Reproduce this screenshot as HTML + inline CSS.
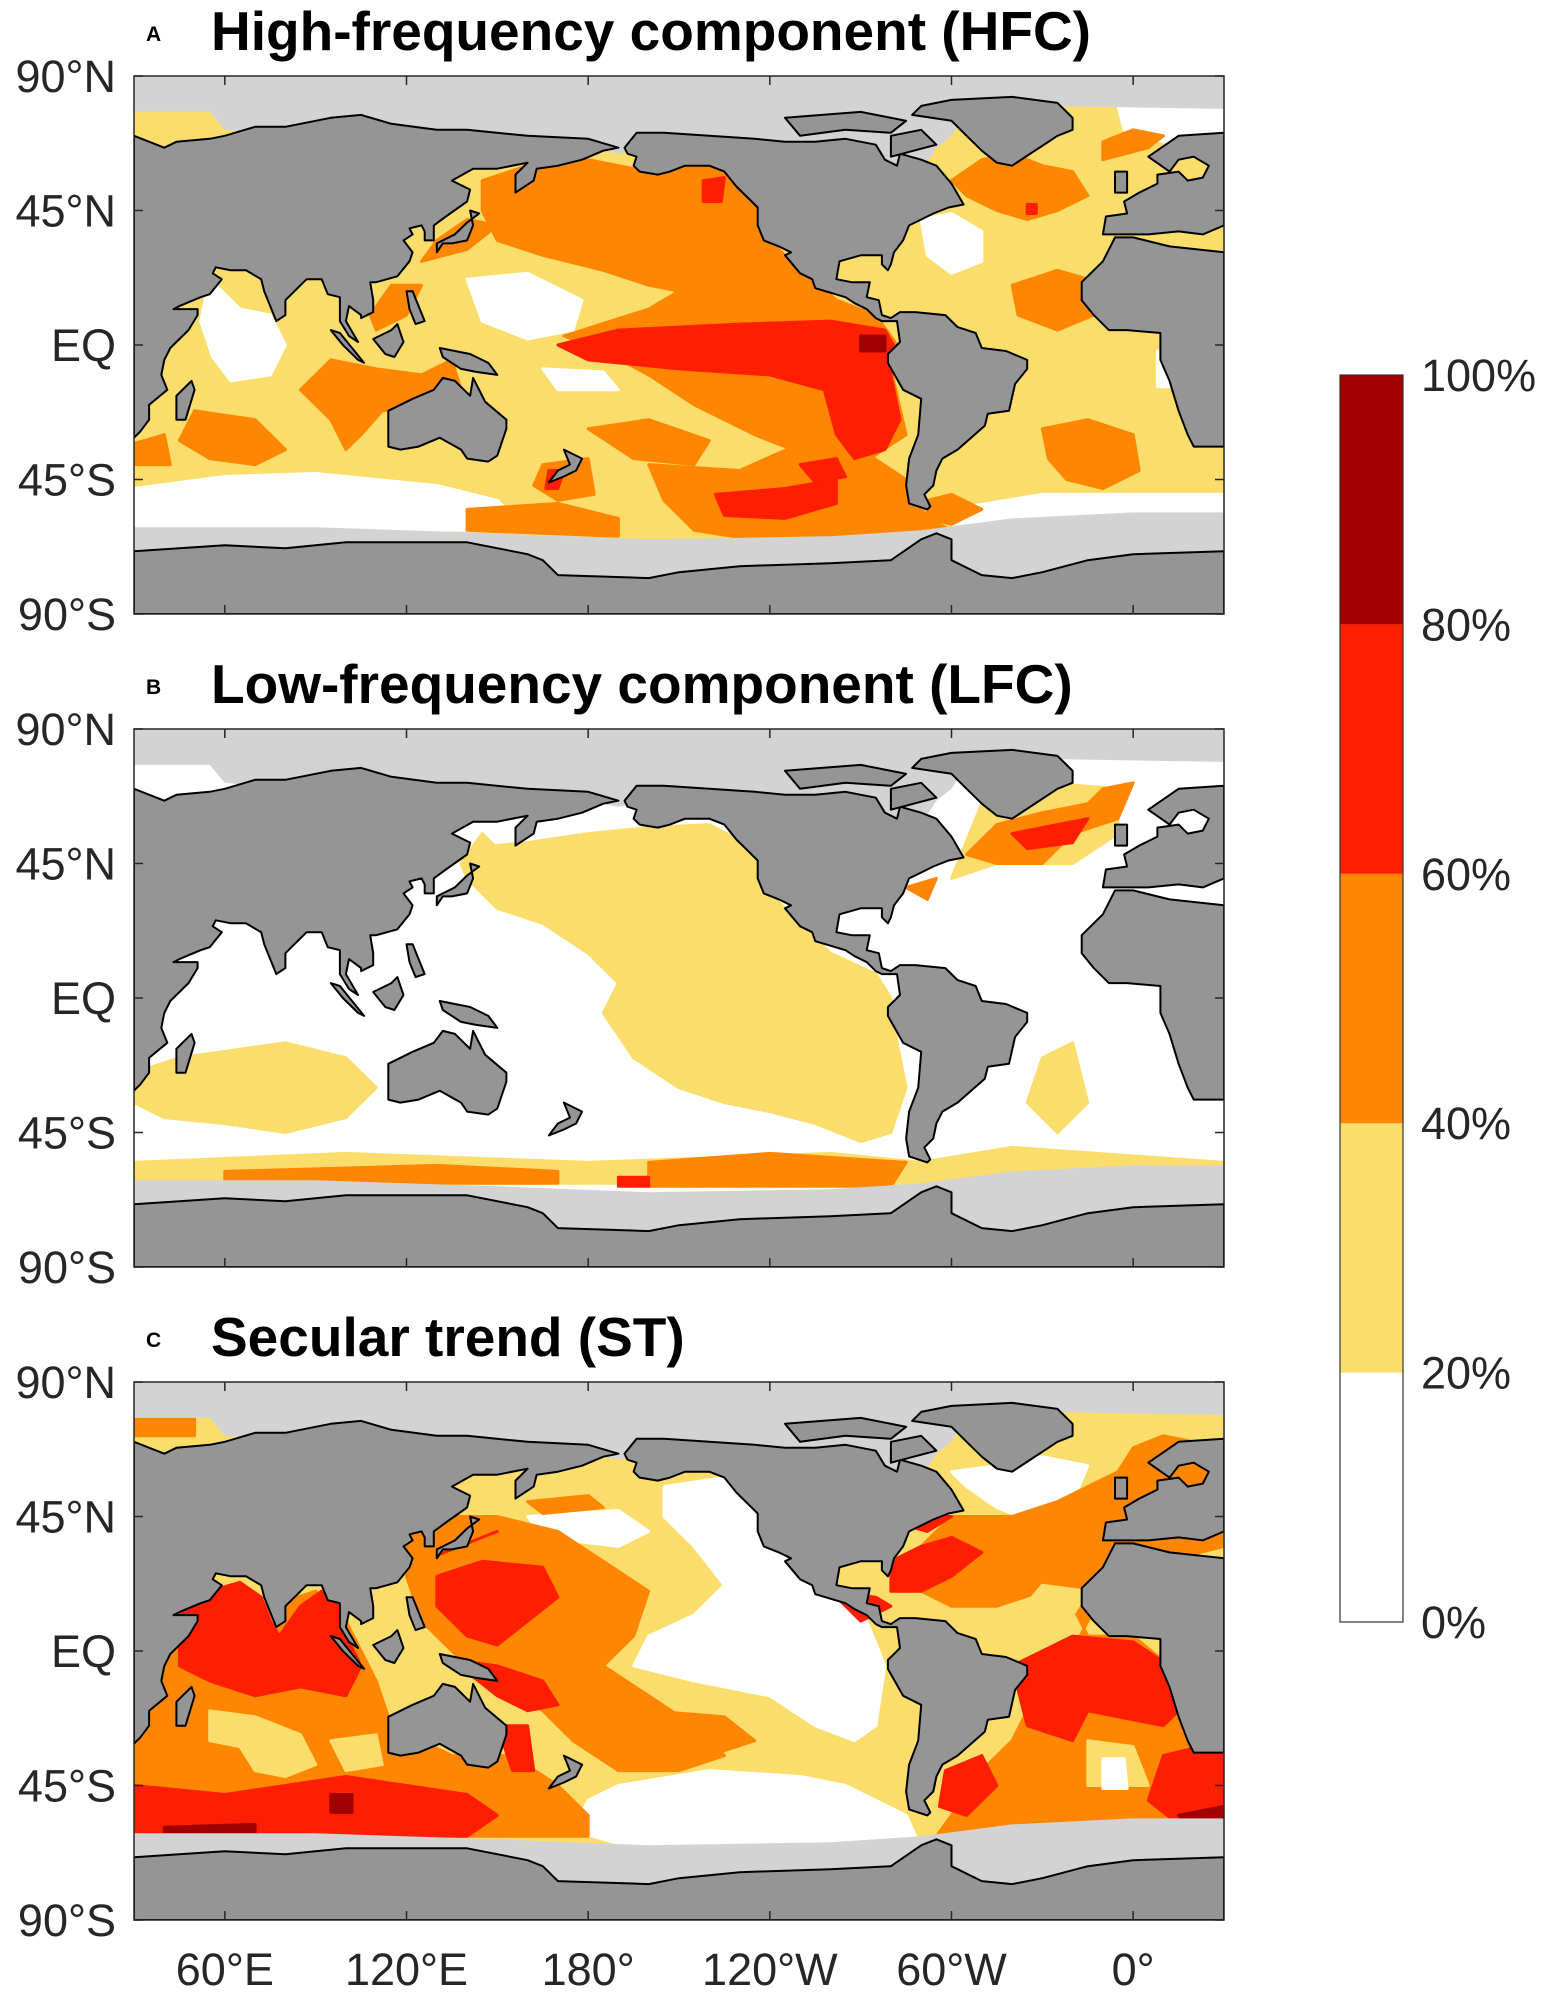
<!DOCTYPE html>
<html><head><meta charset="utf-8"><style>
html,body{margin:0;padding:0;background:#fff}
svg{display:block;font-family:"Liberation Sans",Arial,sans-serif}
</style></head><body>
<svg id="fig" width="1547" height="1998" viewBox="0 0 1547 1998" xmlns="http://www.w3.org/2000/svg"></svg>
<script>
// ---- data ----
const levelColors = ["#ffffff","#fbdd6c","#ff8600","#ff1e00","#a00000"];
const colorbarTicks = ["0%","20%","40%","60%","80%","100%"];
const latTicks = [90,45,0,-45,-90];
const latLabels = ["90°N","45°N","EQ","45°S","90°S"];
const lonTicks = [60,120,180,240,300,360];
const lonLabels = ["60°E","120°E","180°","120°W","60°W","0°"];
const panelTitles = ["High-frequency component (HFC)","Low-frequency component (LFC)","Secular trend (ST)"];
const panelLetters = ["A","B","C"];
const panelBase = [1,0,1];
// blobs: [level, [[lon,lat],...]]
const blobsA = [
[0,[[55,22],[65,12],[75,10],[80,0],[75,-10],[62,-12],[56,-4],[52,8]]],
[0,[[30,-48],[60,-44],[90,-43],[130,-47],[150,-52],[160,-62],[30,-62]]],
[0,[[140,22],[160,24],[178,15],[175,5],[160,2],[145,8]]],
[0,[[165,-8],[185,-9],[190,-15],[170,-15]]],
[0,[[290,42],[300,44],[310,38],[310,28],[300,24],[292,30]]],
[0,[[368,-2],[378,-2],[378,-14],[368,-14]]],
[0,[[355,80],[390,80],[390,70],[370,68],[357,72]]],
[0,[[300,-55],[330,-50],[390,-50],[390,-58],[300,-60]]],
[2,[[145,55],[160,60],[180,62],[200,58],[215,60],[230,58],[236,48],[240,35],[250,25],[262,15],[275,10],[282,0],[280,-8],[285,-30],[270,-40],[255,-38],[235,-30],[215,-20],[200,-10],[185,-2],[172,3],[200,12],[210,18],[200,20],[185,25],[165,30],[150,35],[145,45]]],
[2,[[200,-40],[230,-42],[250,-33],[270,-35],[285,-45],[292,-58],[300,-62],[270,-66],[240,-66],[215,-62],[205,-52]]],
[2,[[165,-40],[180,-38],[182,-50],[170,-52],[162,-47]]],
[2,[[180,-28],[200,-25],[220,-32],[215,-40],[195,-38]]],
[2,[[140,-55],[170,-53],[190,-58],[190,-64],[140,-62]]],
[2,[[95,-5],[110,-8],[125,-10],[135,-5],[138,-15],[125,-20],[112,-22],[105,-30],[100,-35],[95,-25],[85,-15]]],
[2,[[50,-22],[70,-25],[80,-35],[70,-40],[55,-38],[45,-32]]],
[2,[[30,-33],[40,-30],[42,-40],[30,-40]]],
[2,[[110,5],[120,10],[125,20],[115,20],[108,10]]],
[2,[[125,28],[140,32],[150,40],[140,42],[130,35]]],
[2,[[300,55],[310,62],[320,64],[330,60],[340,58],[345,50],[335,45],[325,42],[315,45],[305,50]]],
[2,[[350,62],[365,66],[370,70],[360,72],[350,68]]],
[2,[[320,20],[335,25],[345,22],[347,10],[335,5],[322,10]]],
[2,[[330,-28],[345,-25],[360,-30],[362,-42],[350,-48],[338,-45],[332,-38]]],
[2,[[292,-52],[300,-50],[310,-55],[300,-60],[292,-58]]],
[3,[[170,0],[190,5],[230,7],[260,8],[278,5],[282,-2],[280,-10],[283,-25],[278,-35],[268,-38],[262,-30],[258,-15],[240,-10],[210,-8],[180,-5]]],
[3,[[222,-50],[245,-48],[262,-45],[262,-53],[245,-58],[225,-57]]],
[3,[[250,-40],[262,-38],[265,-44],[255,-46]]],
[3,[[218,55],[225,56],[224,48],[218,48]]],
[3,[[167,-42],[172,-42],[170,-48],[166,-48]]],
[3,[[325,47],[328,47],[328,44],[325,44]]],
[4,[[270,3],[278,3],[278,-2],[270,-2]]]
];
const blobsB = [
[1,[[140,50],[160,52],[180,55],[200,57],[220,58],[235,50],[240,35],[250,25],[260,15],[275,8],[280,0],[282,-15],[285,-30],[280,-45],[270,-48],[255,-42],[240,-38],[225,-35],[210,-30],[195,-20],[185,-5],[190,5],[180,15],[165,25],[150,30],[140,40]]],
[1,[[45,-20],[80,-15],[100,-20],[110,-30],[100,-40],[80,-45],[60,-42],[40,-40],[30,-35],[30,-25]]],
[1,[[30,-55],[100,-52],[180,-55],[260,-52],[290,-55],[320,-50],[390,-55],[390,-62],[30,-62]]],
[1,[[330,-20],[340,-15],[345,-35],[335,-45],[325,-35]]],
[1,[[300,40],[315,45],[340,45],[355,55],[355,70],[330,72],[310,65]]],
[1,[[140,40],[150,50],[145,55],[138,45]]],
[2,[[305,48],[315,58],[330,62],[345,65],[350,70],[360,72],[355,60],[340,55],[330,45],[315,45]]],
[2,[[200,-55],[240,-52],[285,-55],[280,-63],[200,-63]]],
[2,[[60,-58],[130,-56],[170,-58],[170,-62],[60,-62]]],
[2,[[285,37],[295,40],[292,33]]],
[3,[[320,55],[335,58],[345,60],[340,52],[325,50]]],
[3,[[190,-60],[200,-60],[200,-63],[190,-63]]]
];
const blobsC = [
[0,[[205,55],[225,58],[235,50],[240,38],[250,28],[262,18],[272,10],[278,-5],[275,-25],[268,-30],[255,-25],[240,-15],[215,-10],[195,-5],[200,5],[215,12],[225,22],[215,35],[205,45]]],
[0,[[160,45],[190,47],[200,40],[190,35],[165,38]]],
[0,[[190,-45],[220,-40],[250,-42],[265,-45],[285,-55],[290,-66],[195,-66],[175,-60],[180,-50]]],
[0,[[300,60],[315,62],[330,65],[345,62],[340,50],[328,43],[315,48],[305,55]]],
[2,[[30,25],[45,22],[60,20],[75,15],[90,20],[100,10],[110,-10],[115,-25],[135,-35],[155,-35],[170,-45],[180,-55],[180,-62],[30,-62]]],
[2,[[120,40],[135,45],[150,45],[170,40],[185,30],[200,20],[195,5],[185,-5],[200,-15],[215,-25],[225,-35],[210,-40],[190,-40],[175,-30],[165,-20],[150,-10],[140,-5],[125,10],[120,25]]],
[2,[[160,50],[180,52],[185,48],[165,46]]],
[2,[[200,-20],[225,-22],[235,-30],[220,-35]]],
[2,[[280,25],[290,35],[300,45],[320,45],[335,50],[345,55],[355,60],[360,68],[370,72],[380,70],[390,65],[390,35],[370,30],[355,25],[345,10],[340,0],[330,-10],[325,-20],[320,-30],[310,-40],[300,-55],[295,-62],[390,-62],[390,-35],[375,-20],[372,-5],[360,5],[345,5],[340,15],[330,20],[315,15],[300,15],[290,20]]],
[2,[[30,80],[50,80],[50,72],[30,72]]],
[1,[[55,-20],[70,-22],[85,-28],[90,-38],[80,-42],[70,-40],[65,-32],[55,-30]]],
[1,[[95,-30],[110,-28],[112,-38],[100,-40]]],
[1,[[345,-30],[360,-32],[365,-45],[345,-45]]],
[1,[[320,10],[340,12],[345,20],[330,22]]],
[1,[[340,-5],[355,-8],[360,-15],[345,-15]]],
[0,[[350,-36],[357,-36],[358,-46],[350,-46]]],
[3,[[45,12],[55,20],[65,23],[72,18],[75,10],[78,5],[85,15],[92,20],[98,15],[100,5],[105,-5],[100,-15],[85,-12],[70,-15],[55,-10],[45,-5]]],
[3,[[30,-45],[60,-48],[80,-45],[100,-42],[120,-45],[140,-48],[150,-55],[140,-62],[30,-62]]],
[3,[[130,25],[145,30],[165,28],[170,18],[160,10],[150,2],[140,5],[130,15]]],
[3,[[135,-3],[150,-5],[165,-10],[170,-18],[160,-20],[150,-15]]],
[3,[[150,-25],[160,-25],[162,-40],[155,-40]]],
[3,[[130,32],[145,38],[150,40],[140,36]]],
[3,[[260,20],[275,18],[280,15],[270,10]]],
[3,[[280,30],[290,35],[300,38],[310,33],[300,25],[290,20],[280,20]]],
[3,[[285,42],[295,45],[300,45],[292,40]]],
[3,[[320,-5],[340,5],[360,3],[372,-5],[375,-20],[370,-25],[355,-22],[345,-20],[340,-30],[325,-25]]],
[3,[[298,-40],[310,-35],[315,-45],[305,-55],[296,-52]]],
[3,[[370,-35],[390,-30],[390,-58],[375,-58],[365,-50]]],
[4,[[95,-48],[102,-48],[102,-54],[95,-54]]],
[4,[[40,-59],[70,-58],[70,-62],[40,-62]]],
[4,[[375,-55],[390,-52],[390,-60],[380,-60]]]
];
const panelBlobs = [blobsA, blobsB, blobsC];
const icePolys = [
[[30,90],[390,90],[390,79],[330,80],[305,78],[300,70],[295,66],[290,58],[275,52],[265,58],[260,68],[230,68],[200,66],[190,64],[180,66],[160,68],[120,70],[80,70],[60,72],[55,78],[30,78]],
[[30,-61],[90,-61],[150,-63],[200,-65],[260,-64],[290,-62],[320,-58],[360,-56],[390,-56],[390,-90],[30,-90]]
];
const landPolys = [
[[30,70],[40,66],[44,68],[55,69],[60,70],[70,73],[80,73],[95,76],[105,77],[115,74],[130,72],[140,72],[160,70],[180,69],[190,66],[185,65],[178,62],[170,60],[163,59],[162,55],[156,51],[156,57],[160,61],[150,59],[142,59],[135,55],[141,52],[140,48],[133,43],[129,40],[129,35],[126,35],[126,38],[125,40],[121,39],[122,37],[119,35],[122,31],[121,28],[117,23],[110,21],[108,21],[109,15],[109,11],[105,9],[105,10],[101,13],[100,8],[104,1],[101,3],[98,8],[98,16],[94,17],[92,22],[87,22],[80,15],[80,10],[77,8],[73,18],[72,22],[67,25],[62,25],[57,26],[56,24],[59,22],[55,17],[52,16],[45,13],[43,12],[51,12],[51,10],[48,5],[42,-1],[40,-5],[39,-10],[41,-15],[35,-20],[35,-25],[32,-29],[30,-31]],
[[390,31],[372,33],[360,36],[354,36],[350,28],[343,21],[343,15],[347,10],[352,5],[358,5],[369,4],[369,-5],[372,-12],[375,-22],[378,-30],[380,-34],[390,-34]],
[[350,37],[351,43],[358,44],[357,48],[362,51],[368,54],[368,57],[375,58],[378,55],[383,56],[385,60],[380,63],[375,62],[372,58],[365,63],[375,70],[390,71],[390,40],[383,37],[375,38],[365,37]],
[[354,51],[358,51],[358,58],[354,58]],
[[44,-25],[47,-25],[50,-15],[49,-12],[44,-17]],
[[130,31],[132,34],[135,34],[140,35],[142,40],[141,45],[144,44],[140,41],[136,37],[130,34]],
[[109,2],[113,-3],[116,-4],[119,1],[117,7],[115,5]],
[[95,5],[98,4],[106,-6],[104,-5],[99,0]],
[[131,-1],[141,-3],[147,-6],[150,-10],[143,-9],[138,-8],[132,-4]],
[[120,18],[122,18],[126,8],[123,7],[121,12]],
[[114,-22],[114,-34],[118,-35],[124,-34],[131,-31],[138,-35],[140,-38],[147,-39],[150,-37],[153,-28],[153,-25],[146,-19],[142,-11],[141,-17],[136,-12],[132,-11],[129,-15],[122,-18]],
[[172,-35],[178,-38],[176,-42],[172,-44],[167,-46],[170,-42],[174,-40]],
[[192,66],[196,71],[205,71],[220,70],[235,69],[245,68],[255,68],[265,69],[275,67],[278,62],[282,60],[283,64],[290,62],[295,60],[300,54],[304,47],[299,46],[294,44],[290,42],[286,40],[284,35],[281,31],[280,27],[279,25],[277,27],[277,30],[270,30],[263,28],[262,22],[267,21],[273,21],[272,16],[276,15],[277,10],[280,9],[283,11],[288,11],[298,10],[302,6],[308,4],[310,-1],[318,-2],[325,-5],[325,-8],[321,-13],[319,-22],[312,-23],[311,-27],[302,-35],[297,-38],[295,-42],[294,-47],[291,-50],[293,-54],[292,-55],[286,-53],[285,-47],[286,-38],[289,-30],[290,-18],[284,-15],[279,-6],[279,-3],[283,1],[282,8],[277,8],[275,9],[272,12],[268,14],[265,16],[255,19],[254,22],[250,24],[245,30],[247,31],[243,33],[238,35],[236,40],[236,46],[233,49],[229,53],[225,58],[220,60],[212,60],[207,58],[203,57],[197,58],[195,60],[196,63],[193,64]],
[[287,77],[290,80],[300,82],[320,83],[335,81],[340,76],[340,72],[335,70],[320,60],[315,61],[310,65],[305,70],[300,75]],
[[250,70],[265,72],[280,71],[285,75],[270,78],[245,76]],
[[280,63],[295,67],[290,72],[280,70]],
[[30,-69],[60,-67],[80,-68],[100,-66],[120,-66],[140,-66],[160,-70],[165,-72],[170,-77],[200,-78],[210,-76],[230,-74],[260,-73],[280,-72],[290,-65],[295,-63],[300,-65],[300,-72],[310,-77],[320,-78],[330,-76],[345,-72],[360,-70],[390,-69],[390,-90],[30,-90]]
];
// ---- layout ----
const NS="http://www.w3.org/2000/svg";
const svg=document.getElementById('fig');
const mapL=134, mapR=1224, mapH=538;
const panelTops=[76,729,1382];
function xScale(lon){return mapL+(lon-30)*(mapR-mapL)/360;}
function yScale(lat,top){return top+(90-lat)*mapH/180;}
function mk(tag,attrs,parent){const e=document.createElementNS(NS,tag);for(const k in attrs)e.setAttribute(k,attrs[k]);(parent||svg).appendChild(e);return e;}
function pts(poly,top){return poly.map(p=>xScale(p[0]).toFixed(1)+","+yScale(p[1],top).toFixed(1)).join(" ");}

panelTops.forEach((top,pi)=>{
  const g=mk('g',{});
  
  
  const clipId='clip'+pi;
  const cp=mk('clipPath',{id:clipId},g);
  mk('rect',{x:mapL,y:top,width:mapR-mapL,height:mapH},cp);
  const inner=mk('g',{'clip-path':'url(#'+clipId+')'},g);
  const bg=mk('rect',{x:mapL,y:top,width:mapR-mapL,height:mapH,fill:levelColors[panelBase[pi]]},inner);
  
  
  panelBlobs[pi].forEach(b=>{
    const p=mk('polygon',{points:pts(b[1],top),fill:levelColors[b[0]],'stroke':levelColors[b[0]],'stroke-width':3,'stroke-linejoin':'round'},inner);
    
    
  });
  icePolys.forEach(poly=>{
    const p=mk('polygon',{points:pts(poly,top),fill:'#d3d3d3'},inner);
    
    
  });
  landPolys.forEach(poly=>{
    const p=mk('polygon',{points:pts(poly,top),fill:'#959595',stroke:'#000','stroke-width':2,'stroke-linejoin':'round'},inner);
    
    
  });
  const fr=mk('rect',{x:mapL,y:top,width:mapR-mapL,height:mapH,fill:'none',stroke:'#262626','stroke-width':1.5},g);
  
  
  lonTicks.forEach(l=>{
    const x=xScale(l);
    mk('line',{x1:x,x2:x,y1:top,y2:top+9,stroke:'#262626','stroke-width':1.5},g);
    mk('line',{x1:x,x2:x,y1:top+mapH,y2:top+mapH-9,stroke:'#262626','stroke-width':1.5},g);
  });
  latTicks.forEach((lat,i)=>{
    const y=yScale(lat,top);
    mk('line',{x1:mapL,x2:mapL+9,y1:y,y2:y,stroke:'#262626','stroke-width':1.5},g);
    mk('line',{x1:mapR,x2:mapR-9,y1:y,y2:y,stroke:'#262626','stroke-width':1.5},g);
    const t=mk('text',{x:116,y:y+16,'text-anchor':'end','font-size':45,fill:'#262626'},g);
    t.textContent=latLabels[i];
    
    
  });
  const lt=mk('text',{x:146,y:top-35,'font-size':21,'font-weight':'bold',fill:'#000'},g);
  lt.textContent=panelLetters[pi];
  
  
  const tt=mk('text',{x:211,y:top-26,'font-size':55,'font-weight':'bold',fill:'#000'},g);
  tt.textContent=panelTitles[pi];
  
  
});
// lon labels under bottom panel
lonTicks.forEach((l,i)=>{
  const t=mk('text',{x:xScale(l),y:1985,'text-anchor':'middle','font-size':45,fill:'#262626'});
  t.textContent=lonLabels[i];
  
  
});
// colorbar
const cbL=1340, cbR=1403, cbT=375, cbB=1622;
const cb=mk('g',{});


const seg=(cbB-cbT)/(levelColors.length);
levelColors.forEach((c,i)=>{
  const r=mk('rect',{x:cbL,y:cbB-(i+1)*seg,width:cbR-cbL,height:seg,fill:c},cb);
  
  
});
mk('rect',{x:cbL,y:cbT,width:cbR-cbL,height:cbB-cbT,fill:'none',stroke:'#333','stroke-width':1.2},cb);
colorbarTicks.forEach((lab,i)=>{
  const t=mk('text',{x:1421,y:cbB-i*seg+16,'font-size':45,fill:'#262626'},cb);
  t.textContent=lab;
  
  
});
</script>
</body></html>
